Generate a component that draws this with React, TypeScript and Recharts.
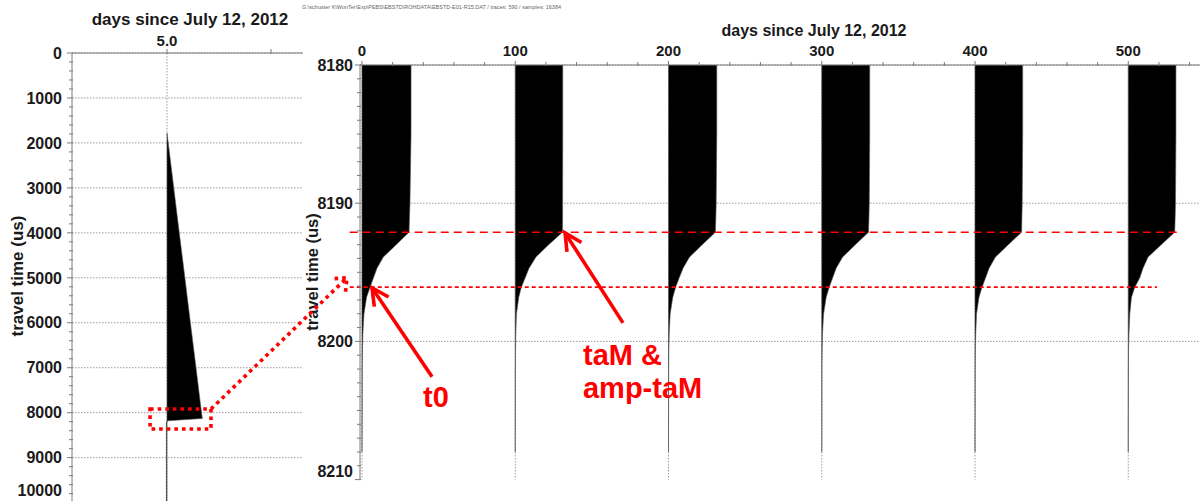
import { ComposedChart, Area, XAxis, YAxis, CartesianGrid, ReferenceLine, ReferenceDot, ReferenceArea } from 'recharts';

const FONT = '"Liberation Sans", Arial, Helvetica, sans-serif';
const RED = '#ff0000';
const GRID = '#9c9c9c';
const AXIS = '#7a7a7a';
const INK = '#1a1a1a';
const TRACE_EDGE = '#555';

const PAGE_W = 1203;
const PAGE_H = 501;
const CHART_H = 510;
const Y_AXIS_W = 60;
const X_AXIS_H = 30;

// overview: one full trace recorded on day 5
const overviewDay = 5.0;
const overviewTimes = [1780, 2000, 3000, 4000, 5000, 6000, 7000, 8000, 8130, 8180, 8200, 9000, 10000];
const overviewAmp = [0, 0.012, 0.065, 0.118, 0.172, 0.225, 0.279, 0.332, 0.34, 0.01, -0.006, -0.006, -0.006];
const overviewTimeTicks = [0, 1000, 2000, 3000, 4000, 5000, 6000, 7000, 8000, 9000, 10000];
const overviewDayTicks = [5.0, 6.0];
const overviewDayLabels = ['5.0', ''];

// zoom on the first arrival, one trace every 100 days
const traceDays = [0, 100, 200, 300, 400, 500];
const zoomTimes = [8180, 8185, 8190, 8191, 8192.1, 8193, 8193.9, 8194.7, 8195.4, 8196.1, 8196.8, 8198, 8199.4, 8200.5, 8202, 8204, 8206, 8208];
const amp0 = [32.0, 32.0, 31.3, 31.0, 30.7, 22.3, 13.9, 9.8, 7.5, 5.2, 3.0, 1.3, 0.6, 0.3, 0.15, 0.1, 0.05, 0];
const amp100 = [31.0, 31.0, 30.9, 30.9, 30.8, 21.8, 13.5, 9.0, 6.5, 3.9, 2.3, 0.8, 0.4, 0.2, 0.1, 0.05, 0.03, 0];
const amp200 = [31.5, 31.5, 31.1, 30.9, 30.6, 22.0, 13.7, 9.5, 7.0, 4.6, 2.8, 1.1, 0.5, 0.25, 0.12, 0.08, 0.04, 0];
const amp300 = [31.3, 31.3, 31.0, 30.8, 30.5, 21.9, 13.6, 9.4, 7.1, 4.8, 2.9, 1.2, 0.5, 0.25, 0.12, 0.08, 0.04, 0];
const amp400 = [31.1, 31.1, 30.8, 30.6, 30.4, 21.7, 13.3, 9.2, 6.9, 4.5, 2.6, 1.0, 0.5, 0.2, 0.1, 0.06, 0.03, 0];
const amp500 = [31.1, 31.1, 30.8, 30.6, 30.3, 21.5, 12.9, 9.6, 7.5, 4.2, 2.1, 1.0, 0.5, 0.2, 0.1, 0.06, 0.03, 0];
const traceAmps = [amp0, amp100, amp200, amp300, amp400, amp500];
const zoomTimeTicks = [8180, 8190, 8200, 8210];
const zoomDayTicks = [0, 100, 200, 300, 400, 500];

// picked times
const taM = 8192.1;
const t0 = 8196.07;

const overviewRows = overviewTimes.map((t, i) => ({ t, trace: [overviewDay, overviewDay + overviewAmp[i]] }));
const zoomRows = zoomTimes.map((t, i) => {
  const row: Record<string, any> = { t };
  traceDays.forEach((d, k) => {
    row['tr' + d] = [d, d + traceAmps[k][i]];
  });
  return row;
});

// plot boxes in page pixels
const overviewBox = { left: 72, right: 303, top: 53, bottom: 502.6 };
const overviewDayDomain: [number, number] = [4.0865, 6.3077];
const overviewTimeDomain: [number, number] = [0, 10000];
const zoomBox = { left: 360, right: 1200, top: 65, bottom: 479.6 };
const zoomDayDomain: [number, number] = [-1.305, 546.8];
const zoomTimeDomain: [number, number] = [8180, 8210];

const marginFor = (box: typeof zoomBox) => ({
  left: box.left - Y_AXIS_W,
  top: box.top - X_AXIS_H,
  right: PAGE_W - box.right,
  bottom: CHART_H - box.bottom,
});

const toPage = (box: typeof zoomBox, xd: [number, number], yd: [number, number], x: number, y: number) => ({
  x: box.left + ((x - xd[0]) / (xd[1] - xd[0])) * (box.right - box.left),
  y: box.top + ((y - yd[0]) / (yd[1] - yd[0])) * (box.bottom - box.top),
});

const steps = (from: number, to: number, step: number) => {
  const out: number[] = [];
  for (let v = from; v <= to + 1e-9; v += step) out.push(Math.round(v * 1000) / 1000);
  return out;
};

function TimeTick({ x, y, payload, majors, gap, max, lift }: any) {
  const v = payload.value;
  const major = majors.includes(v);
  return (
    <g>
      <line x1={x - (major ? 5 : 3)} x2={x + 1} y1={y} y2={y} stroke={AXIS} strokeWidth={1} />
      {major && (
        <text x={x - gap} y={y + 5.7 - (v === max ? lift : 0)} textAnchor="end" fontFamily={FONT} fontWeight="bold" fontSize={16} fill={INK}>
          {v}
        </text>
      )}
    </g>
  );
}

function DayTick({ x, y, payload, majors, labels, gap }: any) {
  const v = payload.value;
  const idx = majors.indexOf(v);
  return (
    <g>
      <line x1={x} x2={x} y1={y - (idx >= 0 ? 4 : 3)} y2={y + 1} stroke={AXIS} strokeWidth={1} />
      {idx >= 0 && labels[idx] !== '' && (
        <text x={x} y={y - gap} textAnchor="middle" fontFamily={FONT} fontWeight="bold" fontSize={15} fill={INK}>
          {labels[idx]}
        </text>
      )}
    </g>
  );
}

function Title({ x, y, size }: { x: number; y: number; size: number }) {
  return (
    <text x={x} y={y} textAnchor="middle" dominantBaseline="central" fontFamily={FONT} fontWeight="bold" fontSize={size} fill={INK}>
      days since July 12, 2012
    </text>
  );
}

function TimeLabel({ x, y, size }: { x: number; y: number; size: number }) {
  return (
    <text x={x} y={y} transform={`rotate(-90 ${x} ${y})`} textAnchor="middle" dominantBaseline="central" fontFamily={FONT} fontWeight="bold" fontSize={size} fill={INK}>
      travel time (us)
    </text>
  );
}

function SolidArrow({ x1, y1, x2, y2 }: any) {
  const back = Math.atan2(y1 - y2, x1 - x2);
  const len = 19;
  const spread = 0.47;
  const a = { x: x2 + len * Math.cos(back - spread), y: y2 + len * Math.sin(back - spread) };
  const b = { x: x2 + len * Math.cos(back + spread), y: y2 + len * Math.sin(back + spread) };
  return (
    <g stroke={RED} strokeWidth={3.6} fill="none">
      <line x1={x1} y1={y1} x2={x2} y2={y2} />
      <polyline points={`${a.x},${a.y} ${x2},${y2} ${b.x},${b.y}`} strokeLinejoin="miter" />
    </g>
  );
}

function RedText({ cx, cy, lines }: any) {
  return (
    <text x={cx} y={cy} fontFamily={FONT} fontWeight="bold" fontSize={29} fill={RED}>
      {lines.map((s: string, i: number) => (
        <tspan key={i} x={cx} dy={i === 0 ? 0 : 33}>
          {s}
        </tspan>
      ))}
    </text>
  );
}

function OverviewPanel() {
  return (
    <ComposedChart width={PAGE_W} height={CHART_H} layout="vertical" data={overviewRows} margin={marginFor(overviewBox)}>
      <CartesianGrid horizontalValues={overviewTimeTicks} verticalValues={[overviewDay]} stroke={GRID} strokeDasharray="1.5 1.5" />
      <XAxis
        type="number"
        orientation="top"
        height={X_AXIS_H}
        domain={overviewDayDomain}
        allowDataOverflow
        ticks={overviewDayTicks}
        interval={0}
        tickSize={0}
        tickMargin={0}
        axisLine={{ stroke: AXIS }}
        tickLine={false}
        tick={(p: any) => <DayTick {...p} majors={overviewDayTicks} labels={overviewDayLabels} gap={7.5} />}
        label={() => <Title x={190} y={19} size={17} />}
      />
      <YAxis
        type="number"
        dataKey="t"
        width={Y_AXIS_W}
        domain={overviewTimeDomain}
        allowDataOverflow
        ticks={steps(0, 10000, 200)}
        interval={0}
        tickSize={0}
        tickMargin={0}
        axisLine={{ stroke: AXIS }}
        tickLine={false}
        tick={(p: any) => <TimeTick {...p} majors={overviewTimeTicks} gap={10} max={10000} lift={12} />}
        label={() => <TimeLabel x={17} y={276} size={17} />}
      />
      <Area dataKey="trace" type="linear" stroke={TRACE_EDGE} strokeWidth={0.6} fill="#000" fillOpacity={1} isAnimationActive={false} />
      <ReferenceArea x1={4.837} x2={5.423} y1={7918} y2={8363} fill="none" stroke={RED} strokeWidth={3.6} strokeDasharray="3.6 4" ifOverflow="visible" />
    </ComposedChart>
  );
}

function ZoomPanel() {
  return (
    <ComposedChart width={PAGE_W} height={CHART_H} layout="vertical" data={zoomRows} margin={marginFor(zoomBox)}>
      <CartesianGrid horizontalValues={zoomTimeTicks.slice(0, 3)} verticalValues={zoomDayTicks} stroke={GRID} strokeDasharray="1.5 1.5" />
      <XAxis
        type="number"
        orientation="top"
        height={X_AXIS_H}
        domain={zoomDayDomain}
        allowDataOverflow
        ticks={steps(0, 540, 20)}
        interval={0}
        tickSize={0}
        tickMargin={0}
        axisLine={{ stroke: AXIS }}
        tickLine={false}
        tick={(p: any) => <DayTick {...p} majors={zoomDayTicks} labels={zoomDayTicks.map(String)} gap={9.5} />}
        label={() => <Title x={814} y={30} size={16} />}
      />
      <YAxis
        type="number"
        dataKey="t"
        width={Y_AXIS_W}
        domain={zoomTimeDomain}
        allowDataOverflow
        ticks={steps(8180, 8210, 1)}
        interval={0}
        tickSize={0}
        tickMargin={0}
        axisLine={{ stroke: AXIS }}
        tickLine={false}
        tick={(p: any) => <TimeTick {...p} majors={zoomTimeTicks} gap={7} max={8210} lift={8} />}
        label={() => <TimeLabel x={312} y={272} size={16.5} />}
      />
      {traceDays.map((d) => (
        <Area key={d} dataKey={'tr' + d} type="linear" stroke={TRACE_EDGE} strokeWidth={0.6} fill="#000" fillOpacity={1} isAnimationActive={false} />
      ))}
      <ReferenceLine segment={[{ x: -8, y: taM }, { x: 531.8, y: taM }]} stroke={RED} strokeWidth={1.6} strokeDasharray="8 5" ifOverflow="visible" />
      <ReferenceLine segment={[{ x: -8, y: t0 }, { x: 518.7, y: t0 }]} stroke={RED} strokeWidth={1.6} strokeDasharray="4 3" ifOverflow="visible" />
      <ReferenceLine segment={[{ x: 45.7, y: 8202.56 }, { x: 6.5, y: 8196.12 }]} ifOverflow="visible" shape={(p: any) => <SolidArrow {...p} />} />
      <ReferenceLine segment={[{ x: 170.3, y: 8198.66 }, { x: 132.5, y: 8192.15 }]} ifOverflow="visible" shape={(p: any) => <SolidArrow {...p} />} />
      <ReferenceDot x={39.8} y={8204.73} ifOverflow="visible" shape={(p: any) => <RedText {...p} lines={['t0']} />} />
      <ReferenceDot x={144.2} y={8201.69} ifOverflow="visible" shape={(p: any) => <RedText {...p} lines={['taM &', 'amp-taM']} />} />
    </ComposedChart>
  );
}

// dotted pointer from the boxed window in the overview to the zoomed panel
function Connector() {
  const start = toPage(overviewBox, overviewDayDomain, overviewTimeDomain, 5.423, 7918);
  const tip = toPage(zoomBox, zoomDayDomain, zoomTimeDomain, -9.8, 8195.4);
  const back = Math.atan2(start.y - tip.y, start.x - tip.x);
  const len = 14;
  const spread = 0.7;
  const a = { x: tip.x + len * Math.cos(back - spread), y: tip.y + len * Math.sin(back - spread) };
  const b = { x: tip.x + len * Math.cos(back + spread), y: tip.y + len * Math.sin(back + spread) };
  return (
    <g stroke={RED} strokeWidth={3.6} strokeDasharray="3.6 4" fill="none">
      <line x1={start.x} y1={start.y} x2={tip.x} y2={tip.y} />
      <polyline points={`${a.x},${a.y} ${tip.x},${tip.y} ${b.x},${b.y}`} />
    </g>
  );
}

export default function App() {
  return (
    <div style={{ position: 'absolute', left: 0, top: 0, width: PAGE_W, height: PAGE_H, overflow: 'hidden', background: '#fff' }}>
      <div style={{ position: 'absolute', left: 0, top: 0 }}>
        <OverviewPanel />
      </div>
      <div style={{ position: 'absolute', left: 0, top: 0 }}>
        <ZoomPanel />
      </div>
      <svg width={PAGE_W} height={PAGE_H} style={{ position: 'absolute', left: 0, top: 0, pointerEvents: 'none' }}>
        <text x={302} y={9} fontFamily={FONT} fontSize={5.5} fill="#666">
          G:\schuster K\WonTer\Exp\PEBS\EBSTD\ROHDATA\EBSTD-E01-R15.DAT / traces: 590 / samples: 16384
        </text>
        <Connector />
      </svg>
    </div>
  );
}
